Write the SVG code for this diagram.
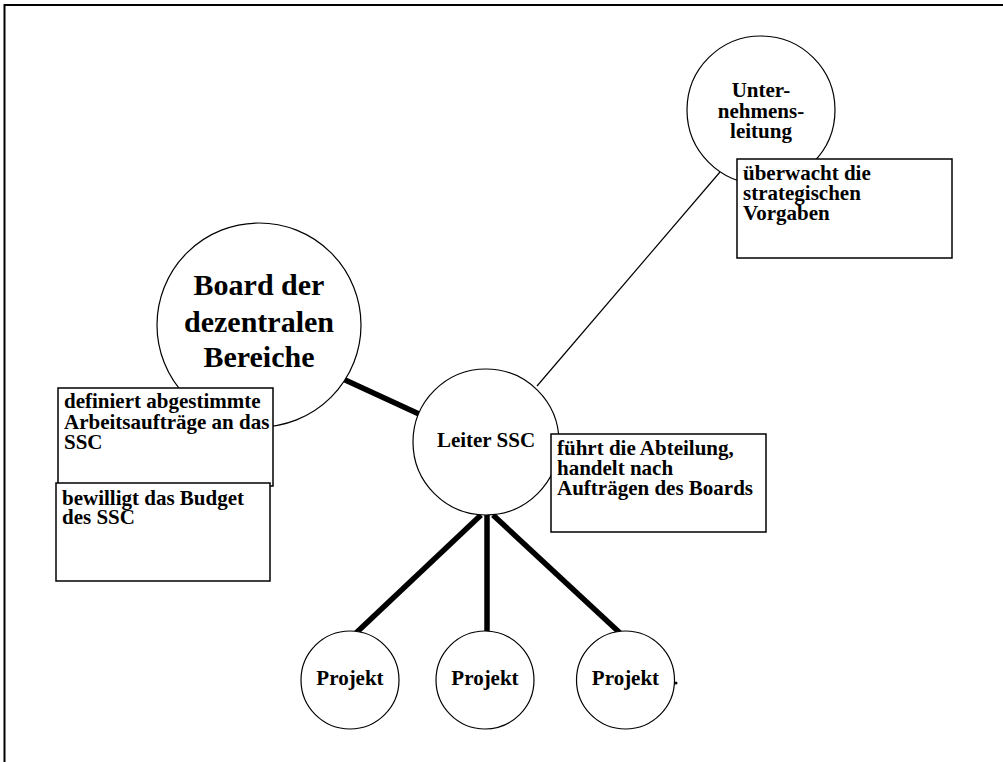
<svg xmlns="http://www.w3.org/2000/svg" width="1003" height="762" viewBox="0 0 1003 762">
<style>
.c{fill:#fff;stroke:#000;stroke-width:1.2}
.b{fill:#fff;stroke:#000;stroke-width:1.5}
.t{font-family:"Liberation Serif","Times New Roman",serif;font-weight:bold;font-size:21px;fill:#000}
.m{text-anchor:middle}
.thick{stroke:#000;stroke-width:5.5;fill:none}
.thin{stroke:#000;stroke-width:1.2;fill:none}
</style>
<rect width="1003" height="762" fill="#fff"/>
<path d="M4.5,762 V5 H1003" fill="none" stroke="#000" stroke-width="2"/>
<g id="connectors">
<line class="thick" x1="343" y1="379" x2="419" y2="414"/>
<line class="thin" x1="537" y1="386" x2="720" y2="172"/>
<line class="thick" x1="481" y1="515" x2="356" y2="633"/>
<line class="thick" x1="487" y1="514" x2="487" y2="633"/>
<line class="thick" x1="493" y1="515" x2="620" y2="633"/>
</g>
<g id="unternehmensleitung">
<circle class="c" cx="761" cy="110" r="74"/>
<text class="t m" x="761" y="97">Unter-</text>
<text class="t m" x="761" y="117.5">nehmens-</text>
<text class="t m" x="761" y="138">leitung</text>
</g>
<g id="board">
<circle class="c" cx="259" cy="325" r="102"/>
<text class="t m" x="259" y="295" style="font-size:30px">Board der</text>
<text class="t m" x="259" y="332" style="font-size:30px">dezentralen</text>
<text class="t m" x="259" y="367" style="font-size:30px">Bereiche</text>
</g>
<g id="leiter">
<circle class="c" cx="486" cy="442" r="73"/>
<text class="t m" x="486" y="447">Leiter SSC</text>
</g>
<g id="projekt1">
<circle class="c" cx="350" cy="680" r="49"/>
<text class="t m" x="350" y="685">Projekt</text>
</g>
<g id="projekt2">
<circle class="c" cx="485" cy="680" r="49"/>
<text class="t m" x="485" y="685">Projekt</text>
</g>
<g id="projekt3">
<circle class="c" cx="625.5" cy="680" r="49"/>
<text class="t m" x="625.5" y="685">Projekt</text>
<circle cx="676" cy="683" r="1.5" fill="#000"/>
</g>
<g id="box-ueberwacht">
<rect class="b" x="737" y="159" width="215" height="99"/>
<text class="t" x="743" y="180">überwacht die</text>
<text class="t" x="743" y="200">strategischen</text>
<text class="t" x="743" y="220">Vorgaben</text>
</g>
<g id="box-definiert">
<rect class="b" x="58" y="388" width="215" height="98"/>
<text class="t" x="64" y="408">definiert abgestimmte</text>
<text class="t" x="64" y="429">Arbeitsaufträge an das</text>
<text class="t" x="64" y="449">SSC</text>
</g>
<g id="box-bewilligt">
<rect class="b" x="56" y="483" width="214" height="98"/>
<text class="t" x="62" y="505">bewilligt das Budget</text>
<text class="t" x="62" y="524">des SSC</text>
</g>
<g id="box-fuehrt">
<rect class="b" x="551" y="434" width="215" height="98"/>
<text class="t" x="557" y="455">führt die Abteilung,</text>
<text class="t" x="557" y="475">handelt nach</text>
<text class="t" x="557" y="495">Aufträgen des Boards</text>
</g>
</svg>
